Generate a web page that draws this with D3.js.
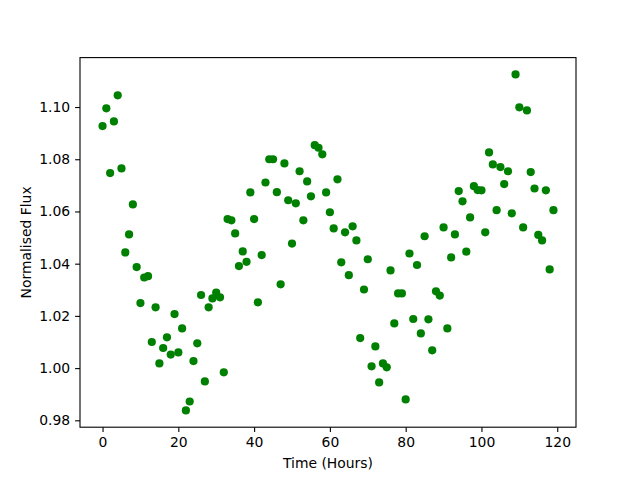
<!DOCTYPE html>
<html>
<head>
<meta charset="utf-8">
<script src="https://cdn.jsdelivr.net/npm/d3@7"></script>
<style>
  body { margin: 0; background: #fff; }
  text { font-family: "DejaVu Sans", sans-serif; }
</style>
</head>
<body>
<div id="chart"></div>
<script>
// time in hours
const hours = [
  0, 1, 2, 3, 4, 5, 6, 7, 8, 9, 10, 11, 12, 13, 14, 15, 16, 17, 18, 19,
  20, 21, 22, 23, 24, 25, 26, 27, 28, 29, 30, 31, 32, 33, 34, 35, 36, 37, 38, 39,
  40, 41, 42, 43, 44, 45, 46, 47, 48, 49, 50, 51, 52, 53, 54, 55, 56, 57, 58, 59,
  60, 61, 62, 63, 64, 65, 66, 67, 68, 69, 70, 71, 72, 73, 74, 75, 76, 77, 78, 79,
  80, 81, 82, 83, 84, 85, 86, 87, 88, 89, 90, 91, 92, 93, 94, 95, 96, 97, 98, 99,
  100, 101, 102, 103, 104, 105, 106, 107, 108, 109, 110, 111, 112, 113, 114, 115, 116, 117, 118, 119
];

const flux = [
  1.0927, 1.0995, 1.0747, 1.0945, 1.1045, 1.0765, 1.0443, 1.0512, 1.0627, 1.0387,
  1.0249, 1.0347, 1.0352, 1.0100, 1.0233, 1.0018, 1.0077, 1.0118, 1.0052, 1.0207,
  1.0060, 1.0152, 0.9838, 0.9872, 1.0027, 1.0095, 1.0280, 0.9949, 1.0233, 1.0267,
  1.0289, 1.0271, 0.9984, 1.0571, 1.0566, 1.0516, 1.0391, 1.0447, 1.0407, 1.0673,
  1.0571, 1.0252, 1.0433, 1.0711, 1.0800, 1.0800, 1.0674, 1.0321, 1.0784, 1.0643,
  1.0477, 1.0631, 1.0754, 1.0566, 1.0715, 1.0658, 1.0854, 1.0844, 1.0819, 1.0673,
  1.0597, 1.0535, 1.0723, 1.0405, 1.0520, 1.0356, 1.0543, 1.0489, 1.0115, 1.0301,
  1.0417, 1.0007, 1.0083, 0.9945, 1.0018, 1.0003, 1.0374, 1.0171, 1.0286, 1.0286,
  0.9880, 1.0439, 1.0188, 1.0395, 1.0133, 1.0505, 1.0187, 1.0068, 1.0294, 1.0278,
  1.0539, 1.0152, 1.0424, 1.0512, 1.0678, 1.0639, 1.0446, 1.0577, 1.0697, 1.0682,
  1.0681, 1.0520, 1.0826, 1.0780, 1.0605, 1.0770, 1.0705, 1.0754, 1.0593, 1.1125,
  1.0999, 1.0539, 1.0987, 1.0751, 1.0688, 1.0510, 1.0489, 1.0681, 1.0378, 1.0605
];

const xTicks = [0, 20, 40, 60, 80, 100, 120];
const yTicks = [0.98, 1.00, 1.02, 1.04, 1.06, 1.08, 1.10];

const data = hours.map((h, i) => ({time: h, flux: flux[i]}));

const totalWidth = 640;
const totalHeight = 480;
const margin = {top: 57.6, right: 64, bottom: 52.8, left: 80};
const width = totalWidth - margin.left - margin.right;
const height = totalHeight - margin.top - margin.bottom;

const svg = d3.select('#chart').append('svg')
  .attr('width', totalWidth)
  .attr('height', totalHeight);

const g = svg.append('g')
  .attr('transform', `translate(${margin.left},${margin.top})`);

// matplotlib style 5% padding
const xExt = d3.extent(data, d => d.time);
const yExt = d3.extent(data, d => d.flux);
const xPad = (xExt[1] - xExt[0]) * 0.05;
const yPad = (yExt[1] - yExt[0]) * 0.05;

const x = d3.scaleLinear()
  .domain([xExt[0] - xPad, xExt[1] + xPad])
  .range([0, width]);

const y = d3.scaleLinear()
  .domain([yExt[0] - yPad, yExt[1] + yPad])
  .range([height, 0]);

g.selectAll('.dot')
  .data(data)
  .enter().append('circle')
  .attr('class', 'dot')
  .attr('cx', d => x(d.time))
  .attr('cy', d => y(d.flux))
  .attr('r', 4.1)
  .attr('fill', '#008000');

const xAxis = g.append('g')
  .attr('transform', `translate(0,${height})`)
  .call(d3.axisBottom(x).tickValues(xTicks).tickSize(4.9).tickPadding(4.9).tickFormat(d3.format('d')));

const yAxis = g.append('g')
  .call(d3.axisLeft(y).tickValues(yTicks).tickSize(4.9).tickPadding(4.9).tickFormat(d3.format('.2f')));

[xAxis, yAxis].forEach(ax => {
  ax.select('.domain').remove();
  ax.selectAll('line').attr('stroke', '#000').attr('stroke-width', 1.1);
  ax.selectAll('text')
    .style('font-family', '"DejaVu Sans", sans-serif')
    .style('font-size', '13.9px')
    .attr('fill', '#000');
});

// frame
g.append('rect')
  .attr('width', width)
  .attr('height', height)
  .attr('fill', 'none')
  .attr('stroke', '#000')
  .attr('stroke-width', 1.1);

svg.append('text')
  .attr('x', margin.left + width / 2)
  .attr('y', 468)
  .attr('text-anchor', 'middle')
  .style('font-size', '13.9px')
  .text('Time (Hours)');

svg.append('text')
  .attr('transform', `translate(31,${margin.top + height / 2}) rotate(-90)`)
  .attr('text-anchor', 'middle')
  .style('font-size', '13.9px')
  .text('Normalised Flux');
</script>
</body>
</html>
